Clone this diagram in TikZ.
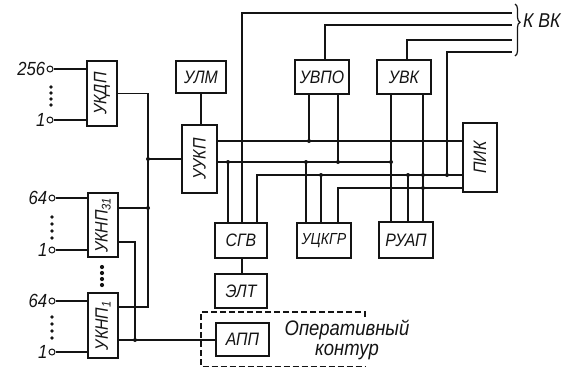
\documentclass[tikz,border=0pt]{standalone}
\usepackage{fontspec}
\setmainfont{Liberation Sans}[FakeStretch=0.88]
\usetikzlibrary{calc,decorations.pathreplacing}
\definecolor{InkClr}{rgb}{0.08,0.08,0.08}
\tikzset{
  blk/.style={draw=InkClr,line width=2.2pt,inner sep=0pt,text=InkClr,
    font=\itshape\fontsize{18}{18}\selectfont},
  wire/.style={draw=InkClr,line width=1.2pt},
  jdot/.style={circle,fill=InkClr,inner sep=0pt,minimum size=4pt},
  term/.style={circle,draw=InkClr,line width=1pt,inner sep=0pt,minimum size=6pt},
  numtxt/.style={inner sep=1pt,text=InkClr,font=\itshape\fontsize{19}{19}\selectfont},
}

\begin{document}
\begin{tikzpicture}[x=1pt,y=-1pt]
\useasboundingbox (0,0) rectangle (581,368);

\node[blk,minimum width=30pt,minimum height=65pt] (UKDP) at (102,93.5) {\rotatebox{90}{УКДП}};
\node[blk,minimum width=30pt,minimum height=64pt] (UKNPb) at (103,225) {\rotatebox{90}{УКНП\textsubscript{31}}};
\node[blk,minimum width=30pt,minimum height=65pt] (UKNPa) at (103,325.5) {\rotatebox{90}{УКНП\textsubscript{1}}};
\node[blk,minimum width=50pt,minimum height=32pt] (ULM) at (201,77) {УЛМ};
\node[blk,minimum width=35pt,minimum height=68pt] (UUKP) at (199.5,159) {\rotatebox{90}{УУКП}};
\node[blk,minimum width=54pt,minimum height=34pt] (UVPO) at (322,77) {УВПО};
\node[blk,minimum width=54pt,minimum height=34pt] (UVK) at (404,77) {УВК};
\node[blk,minimum width=34pt,minimum height=69pt] (PIK) at (480,157.5) {\rotatebox{90}{ПИК}};
\node[blk,minimum width=52pt,minimum height=35pt] (SGV) at (241,240.5) {СГВ};
\node[blk,minimum width=54pt,minimum height=35pt,font=\itshape\fontsize{16}{16}\selectfont] (UCKGR) at (324,240.5) {УЦКГР};
\node[blk,minimum width=54pt,minimum height=36pt] (RUAP) at (406,240) {РУАП};
\node[blk,minimum width=52pt,minimum height=34pt] (ELT) at (241,291) {ЭЛТ};
\node[blk,minimum width=53pt,minimum height=33pt] (APP) at (242.5,339.5) {АПП};

\node[term] (i256) at (50,69) {};
\node[term] (i1a) at (50,120) {};
\node[term] (i64b) at (52,198) {};
\node[term] (i1b) at (52,250) {};
\node[term] (i64a) at (52,301) {};
\node[term] (i1c) at (52,352) {};
\node[numtxt,anchor=east] (n256) at (i256.west) {256};
\node[numtxt,anchor=east] (n1a) at (i1a.west) {1};
\node[numtxt,anchor=east] (n64b) at (i64b.west) {64};
\node[numtxt,anchor=east] (n1b) at (i1b.west) {1};
\node[numtxt,anchor=east] (n64a) at (i64a.west) {64};
\node[numtxt,anchor=east] (n1c) at (i1c.west) {1};
\draw[wire] (i256) -- (UKDP.west |- i256);
\draw[wire] (i1a) -- (UKDP.west |- i1a);
\draw[wire] (i64b) -- (UKNPb.west |- i64b);
\draw[wire] (i1b) -- (UKNPb.west |- i1b);
\draw[wire] (i64a) -- (UKNPa.west |- i64a);
\draw[wire] (i1c) -- (UKNPa.west |- i1c);
\foreach \y in {87,93,99,105} \fill[InkClr] (51,\y) circle (1.8);
\foreach \y in {217,224,231,238} \fill[InkClr] (52,\y) circle (1.8);
\foreach \y in {317,324,331,338} \fill[InkClr] (52,\y) circle (1.8);
\foreach \y in {267,273,279,285} \fill[InkClr] (102,\y) circle (2.1);

\coordinate (bA) at (148,93.5);
\coordinate (bB) at (148,307);
\coordinate (jU) at (148,159);
\coordinate (j31) at (148,208);
\coordinate (cA) at (135,242);
\coordinate (cB) at (135,340);
\draw[wire] (UKDP.east) -- (bA) -- (bB) -- (UKNPa.east |- bB);
\draw[wire] (jU) -- (UUKP.west);
\draw[wire] (UKNPb.east |- j31) -- (j31);
\draw[wire] (UKNPb.east |- cA) -- (cA) -- (cB);
\draw[wire] (UKNPa.east |- cB) -- (APP.west |- cB);
\draw[wire] (ULM.south) -- (ULM.south |- UUKP.north);

\coordinate (rA) at (309,141);
\coordinate (b1) at (228,162);
\coordinate (b2) at (306,162);
\coordinate (b3) at (338,162);
\coordinate (b4) at (391,162);
\coordinate (c0) at (257,175);
\coordinate (c1) at (321,175);
\coordinate (c2) at (408,175);
\coordinate (c3) at (423,175);
\coordinate (c4) at (447,175);
\coordinate (d0) at (338,188);
\coordinate (d1) at (423,188);
\coordinate (t1) at (242,13);
\coordinate (t2) at (325,25);
\coordinate (t3) at (407,40);
\coordinate (t4) at (447,52);
\coordinate (e1) at (512,13);
\coordinate (e2) at (512,25);
\coordinate (e3) at (512,40);
\coordinate (e4) at (512,52);

\draw[wire] (UUKP.east |- rA) -- (PIK.west |- rA);
\draw[wire] (UVPO.south -| rA) -- (rA);
\draw[wire] (UUKP.east |- b1) -- (b4);
\draw[wire] (b1) -- (SGV.north -| b1);
\draw[wire] (b2) -- (UCKGR.north -| b2);
\draw[wire] (UVPO.south -| b3) -- (b3);
\draw[wire] (UVK.south -| b4) -- (RUAP.north -| b4);
\draw[wire] (SGV.north -| c0) -- (c0) -- (PIK.west |- c0);
\draw[wire] (c1) -- (UCKGR.north -| c1);
\draw[wire] (c2) -- (RUAP.north -| c2);
\draw[wire] (UVK.south -| c3) -- (RUAP.north -| c3);
\draw[wire] (UCKGR.north -| d0) -- (d0) -- (PIK.west |- d0);
\draw[wire] (SGV.north -| t1) -- (t1) -- (e1);
\draw[wire] (UVPO.north -| t2) -- (t2) -- (e2);
\draw[wire] (UVK.north -| t3) -- (t3) -- (e3);
\draw[wire] (c4) -- (t4) -- (e4);
\draw[wire] (SGV.south -| t1) -- (ELT.north -| t1);

\foreach \j in {jU,j31,cB,rA,b1,b2,b3,b4,c1,c2,c3,c4,d1}
  \node[jdot] at (\j) {};

\draw[InkClr,line width=1.2pt,decorate,decoration={brace,amplitude=5pt,aspect=0.35}] (515,4) -- (515,56);
\node[numtxt,anchor=west,font=\itshape\fontsize{20}{20}\selectfont] (kvk) at (522,21) {К ВК};

\draw[InkClr,line width=1.2pt,dash pattern=on 6pt off 3pt] (365,317) -- (365,312) -- (201,312) -- (201,366.5) -- (365,366.5);
\node[numtxt,align=center,font=\itshape\fontsize{21}{20}\selectfont] (opk) at (347,340) {Оперативный\\контур};

\end{tikzpicture}
\end{document}
